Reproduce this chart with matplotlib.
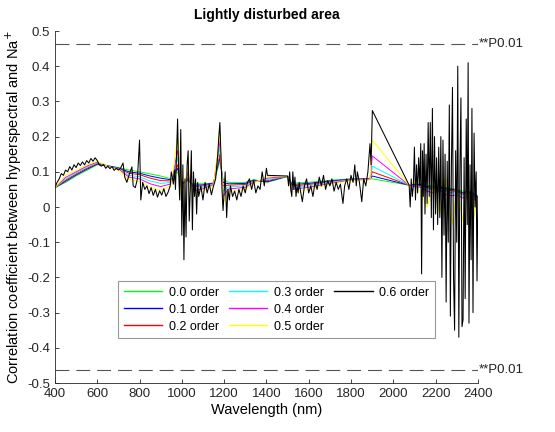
import matplotlib
matplotlib.use('Agg')
import matplotlib.pyplot as plt
from matplotlib.lines import Line2D

plt.rcParams['font.family'] = ['Liberation Sans', 'DejaVu Sans']
plt.rcParams['lines.scale_dashes'] = False

# coarse wavelength grid for the 0.0 - 0.5 order curves
wl_c = [400, 450, 500, 550, 600, 650, 700, 750, 800, 850, 900, 950, 980, 1000,
        1030, 1050, 1100, 1150, 1180, 1195, 1220, 1300, 1340, 1405, 1500, 1520,
        1600, 1700, 1800, 1890, 1901,
        2075, 2100, 2130, 2160, 2190, 2220, 2250, 2280, 2300, 2330, 2350, 2380, 2400]

order_00 = [.055, .070, .088, .104, .120, .117, .112, .105, .100, .094, .088, .080, .100, .070,
            .075, .066, .066, .068, .130, .080, .070, .070, .078, .070, .087, .068,
            .070, .076, .080, .080, .080,
            .062, .065, .066, .062, .060, .058, .055, .052, .050, .045, .045, .040, .030]
order_01 = [.055, .073, .091, .107, .122, .117, .111, .100, .096, .088, .082, .077, .110, .066,
            .078, .062, .063, .068, .140, .070, .066, .067, .076, .072, .087, .064,
            .067, .074, .079, .080, .088,
            .062, .064, .064, .058, .056, .056, .052, .050, .047, .040, .044, .036, .030]
order_02 = [.055, .076, .094, .110, .124, .117, .110, .096, .092, .082, .075, .074, .120, .060,
            .082, .058, .060, .067, .150, .060, .062, .064, .074, .075, .087, .060,
            .064, .072, .078, .080, .100,
            .062, .062, .062, .055, .052, .054, .048, .046, .044, .036, .040, .030, .030]
order_03 = [.055, .080, .097, .113, .126, .117, .109, .090, .086, .074, .067, .070, .140, .050,
            .090, .052, .056, .066, .170, .045, .057, .060, .072, .078, .087, .055,
            .060, .070, .077, .079, .116,
            .062, .060, .060, .052, .048, .050, .044, .040, .040, .030, .036, .025, .030]
order_04 = [.055, .084, .100, .116, .128, .116, .108, .085, .080, .066, .058, .066, .160, .040,
            .100, .045, .052, .064, .190, .030, .051, .056, .070, .082, .087, .050,
            .056, .067, .076, .078, .145,
            .062, .058, .056, .045, .040, .048, .035, .032, .035, .025, .030, .020, .030]
order_05 = [.055, .090, .104, .120, .130, .115, .106, .078, .072, .056, .048, .060, .200, .020,
            .120, .035, .046, .060, .210, .010, .044, .050, .068, .087, .087, .042,
            .050, .064, .075, .077, .190,
            .062, .070, .040, .000, .060, -.020, .080, -.050, .050, -.040, .060, -.030, .030]

# fine wavelength grid for the 0.6 order curve
wl_06 = [400, 410, 420, 430, 440, 450, 460, 470, 480, 490, 500, 510, 520, 530, 540, 550,
         560, 570, 580, 590, 600, 610, 620, 630, 640, 650, 660, 670, 680, 690, 700, 710,
         722, 730, 740, 750, 764, 770, 780, 790, 800, 806, 815, 825, 835, 845, 855, 865,
         875, 885, 895, 905, 915, 925, 935, 945, 950, 955, 960, 965, 970, 975, 980, 985,
         990, 995, 1000, 1005, 1010, 1015, 1020, 1025, 1030, 1035, 1040, 1045, 1050, 1055,
         1060, 1065, 1070, 1075, 1080, 1090, 1100, 1110, 1120, 1130, 1140, 1150, 1160, 1170,
         1175, 1180, 1185, 1190, 1195, 1200, 1205, 1212, 1218, 1225, 1230, 1240, 1250, 1260,
         1270, 1280, 1290, 1300, 1310, 1320, 1330, 1340, 1350, 1360, 1370, 1380, 1390, 1400,
         1405, 1500, 1505, 1510, 1515, 1520, 1525, 1530, 1535, 1540, 1545, 1550, 1555, 1560,
         1570, 1580, 1590, 1600, 1610, 1620, 1630, 1640, 1650, 1660, 1670, 1680, 1690, 1700,
         1710, 1720, 1730, 1740, 1750, 1762, 1770, 1780, 1790, 1800, 1810, 1818, 1825, 1830,
         1840, 1851, 1860, 1870, 1880, 1890, 1895, 1901, 2075, 2080, 2085, 2090, 2095, 2100,
         2105, 2110, 2115, 2120, 2125, 2130, 2134, 2138, 2142, 2146, 2150, 2155, 2160, 2165,
         2170, 2175, 2180, 2185, 2190, 2195, 2200, 2205, 2210, 2215, 2220, 2225, 2230, 2235,
         2240, 2245, 2250, 2255, 2260, 2265, 2270, 2275, 2280, 2285, 2290, 2295, 2300, 2305,
         2310, 2315, 2320, 2325, 2330, 2335, 2340, 2345, 2350, 2354, 2358, 2363, 2368, 2372,
         2377, 2382, 2387, 2392, 2396, 2400]
order_06 = [.055, .070, .080, .095, .090, .105, .100, .115, .105, .120, .112, .125, .118, .128, .120, .132,
            .125, .138, .130, .140, .132, .120, .116, .121, .110, .116, .109, .115, .104, .110, .105, .110,
            .125, .085, .070, .090, .114, .060, .055, .080, .190, .020, .070, .050, .060, .038, .055, .033,
            .050, .028, .046, .034, .052, .030, .042, .060, .100, .085, .065, .105, .050, .150, .250, .100,
            .020, .220, -.080, .120, -.150, .080, -.085, .120, .160, -.040, .050, .160, -.065, .100,
            .030, .080, -.020, .070, .030, .060, .020, .070, .040, .065, .035, .060, .080, .150,
            .200, .240, .150, .050, -.010, .040, .100, -.030, .050, .020, .060, .030, .045, .020,
            .050, .030, .060, .040, .070, .080, .050, .075, .040, .060, .050, .100, .060, .110,
            .090, .088, .060, .100, .050, .030, .100, .050, .085, .030, .060, .040, .070, .050,
            .015, .060, .080, .040, .060, .030, .070, .050, .085, .060, .090, .050, .075, .060,
            .080, .045, .070, .050, .065, .010, .060, .080, .050, .090, .070, .120, .060, .100,
            .070, .015, .080, .060, .100, .180, .120, .274, .062, .000, .080, .030, .060, .170,
            .020, .120, .040, .140, .060, .180, -.190, .160, .030, .180, -.020, .150, .010, .240,
            .030, .240, -.030, .280, -.065, .200, -.020, .140, -.050, .170, -.030, .200, -.200, .190,
            -.080, .150, -.270, .130, -.100, .290, -.310, .120, .340, -.200, -.350, .160, -.100, .400,
            -.370, .100, .310, -.340, -.320, .140, -.260, .250, -.050, .410, -.330, .120, -.150, .280,
            -.300, .210, .000, .100, -.210, .030]

orders = [order_00, order_01, order_02, order_03, order_04, order_05]
labels = ['0.0 order', '0.1 order', '0.2 order', '0.3 order', '0.4 order', '0.5 order', '0.6 order']
colors = ['#00ff00', '#0000ff', '#ff0000', '#00ffff', '#ff00ff', '#ffff00', '#000000']

x_ticks = [400, 600, 800, 1000, 1200, 1400, 1600, 1800, 2000, 2200, 2400]
y_ticks = [-0.5, -0.4, -0.3, -0.2, -0.1, 0, 0.1, 0.2, 0.3, 0.4, 0.5]
y_tick_labels = ['-0.5', '-0.4', '-0.3', '-0.2', '-0.1', '0', '0.1', '0.2', '0.3', '0.4', '0.5']
p001 = 0.463

fig = plt.figure(figsize=(5.55, 4.32), dpi=100)
ax = fig.add_axes([0.099, 0.1134, 0.762, 0.8148])

handles = []
for vals, lab, col in zip(orders, labels[:6], colors[:6]):
    h, = ax.plot(wl_c, vals, color=col, lw=0.7, label=lab)
    handles.append(h)
h, = ax.plot(wl_06, order_06, color=colors[6], lw=0.75, label=labels[6])
handles.append(h)

ax.plot([400, 2400], [p001, p001], color='#555555', lw=0.8, dashes=(10, 5))
ax.plot([400, 2400], [-p001, -p001], color='#555555', lw=0.8, dashes=(10, 5))
ax.text(2405, p001, '**P0.01', fontsize=9.5, va='center', ha='left', color='#222222')
ax.text(2405, -p001, '**P0.01', fontsize=9.5, va='center', ha='left', color='#222222')

ax.set_xlim(400, 2400)
ax.set_ylim(-0.5, 0.5)
ax.set_xticks(x_ticks)
ax.set_yticks(y_ticks)
ax.set_yticklabels(y_tick_labels)
ax.tick_params(direction='in', length=3, width=0.6, labelsize=9.5, colors='#262626')
for s in ['top', 'right']:
    ax.spines[s].set_visible(False)
for s in ['left', 'bottom']:
    ax.spines[s].set_color('#262626')
    ax.spines[s].set_linewidth(0.6)

ax.set_title('Lightly disturbed area', fontsize=10, fontweight='bold', pad=9)
ax.set_xlabel('Wavelength (nm)', fontsize=10.5, labelpad=2)
ax.set_ylabel('Correlation coefficient between hyperspectral and Na$^{+}$', fontsize=10.5, labelpad=2)

# two blank entries so the legend fills 3 + 3 + 1 down the columns
blank = Line2D([], [], color='none')
leg = ax.legend(handles + [blank, blank], labels + ['', ''], ncol=3, loc='upper left',
                bbox_to_anchor=(0.149, 0.29), borderaxespad=0, fontsize=9,
                frameon=True, fancybox=False, edgecolor='#999999', framealpha=1,
                handlelength=3.1, handletextpad=0.5, columnspacing=0.8,
                labelspacing=0.4, borderpad=0.45)
leg.get_frame().set_linewidth(0.8)
for ln in leg.get_lines():
    ln.set_linewidth(1.0)

fig.savefig('out.png', dpi=100)
